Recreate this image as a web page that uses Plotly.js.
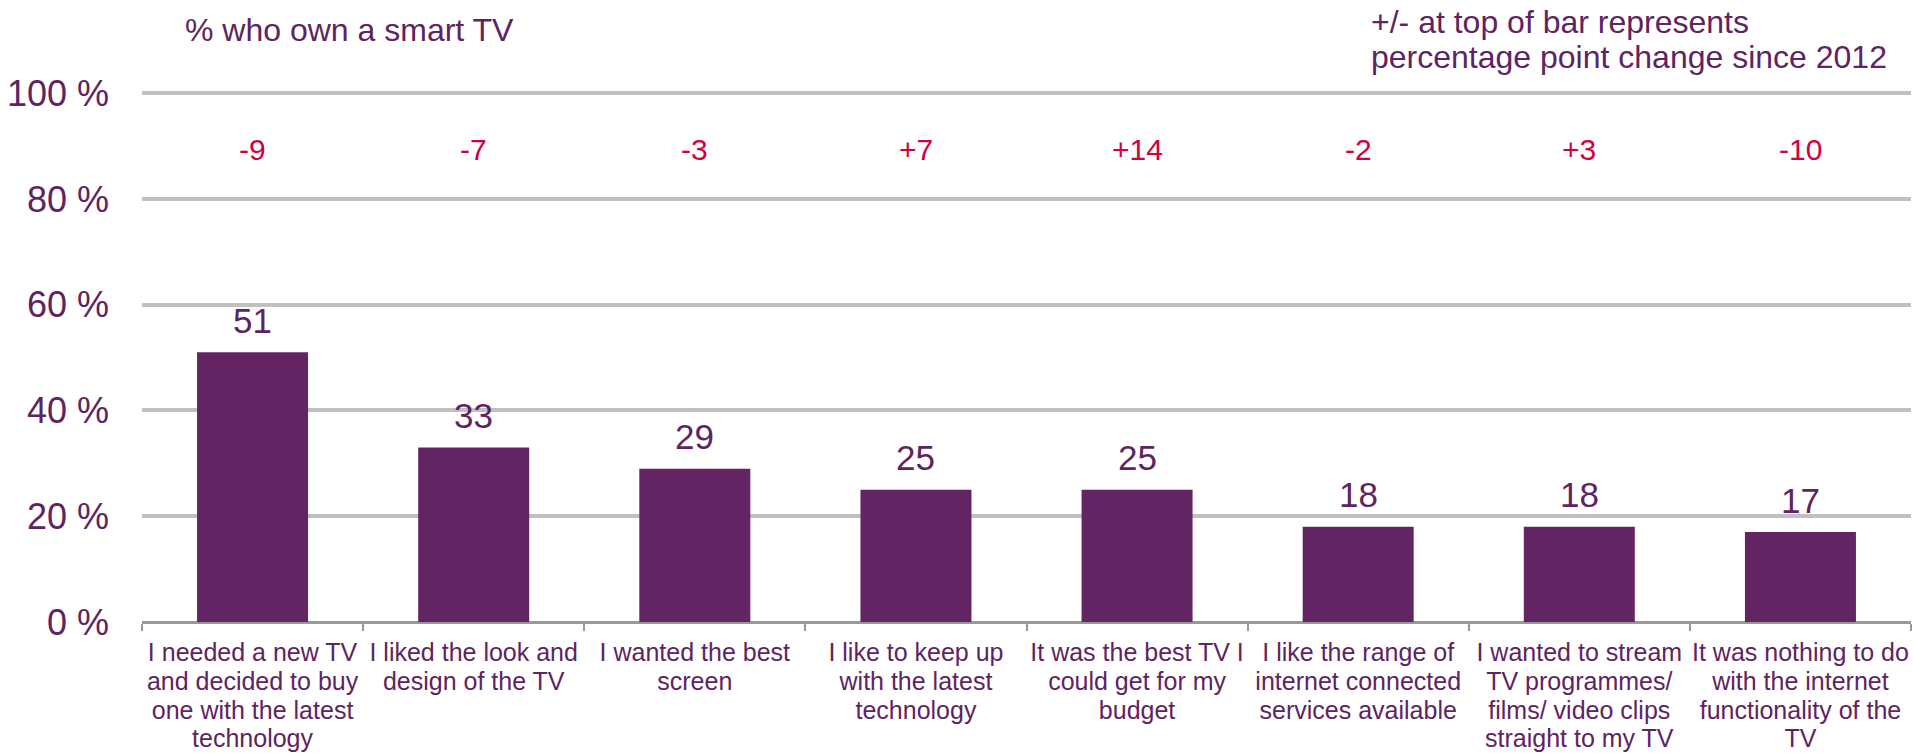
<!DOCTYPE html>
<html>
<head>
<meta charset="utf-8">
<script src="https://cdn.plot.ly/plotly-3.0.1.min.js"></script>
<style>
html, body { margin: 0; padding: 0; background: #fff; }
#chart { width: 1913px; height: 753px; }
</style>
</head>
<body>
<div id="chart"></div>
<script>
// ---- data ----
const categories = [
  "I needed a new TV<br>and decided to buy<br>one with the latest<br>technology",
  "I liked the look and<br>design of the TV",
  "I wanted the best<br>screen",
  "I like to keep up<br>with the latest<br>technology",
  "It was the best TV I<br>could get for my<br>budget",
  "I like the range of<br>internet connected<br>services available",
  "I wanted to stream<br>TV programmes/<br>films/ video clips<br>straight to my TV",
  "It was nothing to do<br>with the internet<br>functionality of the<br>TV"
];
const values = [51, 33, 29, 25, 25, 18, 18, 17];
const changes = ["-9", "-7", "-3", "+7", "+14", "-2", "+3", "-10"];
const yTicks = [0, 20, 40, 60, 80, 100];
const titleText = "% who own a smart TV";
const noteLines = ["+/- at top of bar represents", "percentage point change since 2012"];

// ---- styles ----
const PURPLE = "#622462";
const TEXT = "#5E2461";
const RED = "#D1003F";
const FONT = "Liberation Sans, Arial, sans-serif";
const CHANGE_ROW_Y = 89.4;
const Y_TOP = 100.6;

const W = 1913, H = 753;
const L = 142, R = 2, B = 131;
const T = Math.round(93 - (Y_TOP - 100) * (622 - 93) / 100);

const annotations = [];
categories.forEach((c, i) => {
  annotations.push({
    x: c, y: values[i], xref: "x", yref: "y",
    text: String(values[i]), showarrow: false,
    yanchor: "middle", yshift: 32,
    font: { family: FONT, size: 35, color: TEXT }
  });
  annotations.push({
    x: c, y: CHANGE_ROW_Y, xref: "x", yref: "y",
    text: changes[i], showarrow: false,
    yanchor: "middle",
    font: { family: FONT, size: 30, color: RED }
  });
});
noteLines.forEach((t, k) => {
  const px = 1369, py = 22 + k * 35;
  annotations.push({
    x: (px - L) / (W - L - R), xref: "paper", xanchor: "left",
    y: (H - B - py) / (H - T - B), yref: "paper", yanchor: "middle",
    text: t, showarrow: false, align: "left",
    font: { family: FONT, size: 32, color: TEXT }
  });
});

const trace = {
  type: "bar",
  x: categories,
  y: values,
  marker: { color: PURPLE },
  width: 0.502,
  hoverinfo: "skip"
};

const layout = {
  width: W, height: H,
  margin: { l: L, r: R, t: T, b: B, pad: 0 },
  paper_bgcolor: "#ffffff",
  plot_bgcolor: "#ffffff",
  showlegend: false,
  title: {
    text: titleText,
    x: 185 / W, xanchor: "left", xref: "container",
    y: 1 - 30 / H, yanchor: "middle", yref: "container",
    font: { family: FONT, size: 32, color: TEXT }
  },
  xaxis: {
    type: "category",
    showgrid: false,
    showline: true, linecolor: "#999999", linewidth: 2,
    ticks: "outside", tickson: "boundaries", ticklen: 7, tickcolor: "#999999", tickwidth: 2,
    tickangle: 0,
    tickfont: { family: FONT, size: 25, color: TEXT },
    ticklabelstandoff: 7,
    fixedrange: true
  },
  yaxis: {
    range: [0, Y_TOP],
    tickvals: yTicks,
    ticktext: yTicks.map(v => v + " %"),
    showgrid: true, gridcolor: "#C0C0C0", gridwidth: 4,
    zeroline: true, zerolinecolor: "#999999", zerolinewidth: 2,
    showline: false, ticks: "",
    ticklabelstandoff: 32,
    tickfont: { family: FONT, size: 36, color: TEXT },
    fixedrange: true
  },
  annotations: annotations
};

Plotly.newPlot("chart", [trace], layout, { displayModeBar: false, staticPlot: true }).then(gd => {
  // tighten line spacing of the multi-line category labels to match the reference
  gd.querySelectorAll(".xtick text tspan.line").forEach(ts => {
    const dy = parseFloat(ts.getAttribute("dy"));
    if (!isNaN(dy) && dy !== 0) ts.setAttribute("dy", (dy / 1.3 * 1.15).toFixed(3) + "em");
  });
});
</script>
</body>
</html>
